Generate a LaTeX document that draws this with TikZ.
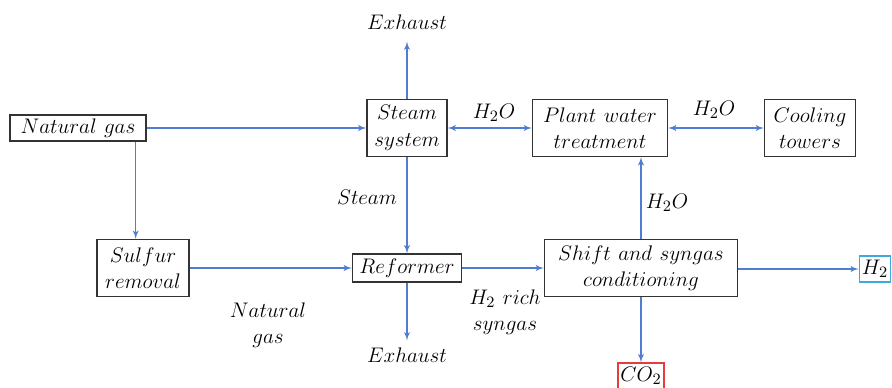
\documentclass[tikz,border=0pt]{standalone}
\usepackage{amsmath}
\usepackage{tikz}
\usetikzlibrary{calc}
\usetikzlibrary{positioning}
\usetikzlibrary{shapes,arrows}

\definecolor{flowBlue}{RGB}{80,125,210}
\definecolor{hydrogenCyan}{RGB}{60,170,220}
\definecolor{carbonRed}{RGB}{230,60,60}

\begin{document}
\begin{tikzpicture} [>=latex', x=0.02cm, y=-0.02cm, font=\fontsize{13}{15}\selectfont]
            % Set primary nodes
            \tikzset{
                unitBox/.style={
                        draw=black!80,
                        rectangle,
                        thick,
                        align=center,
                        inner sep=0.5pt
                    }
            }
            \tikzset{
                productBox/.style={
                        draw,
                        rectangle,
                        thick,
                        inner sep=1.5pt,
                        minimum height=0.52cm
                    }
            }
            \tikzset{
                streamLabel/.style={
                        align=center,
                        inner sep=0pt
                    }
            }
            % Configure arrows
            \tikzstyle{flow} = [flowBlue, semithick, ->]
            \tikzstyle{twoWay} = [flowBlue, semithick, <->]
            \useasboundingbox (0,0) rectangle (892,388);
            % Placing nodes
            \node[unitBox, minimum width=2.72cm, minimum height=0.52cm](natGas) at (78,128){$Natural\ gas$};
            \node[unitBox, minimum width=1.6cm, minimum height=1.14cm](steamSys) at (407,128){$Steam$\\$system$};
            \node[unitBox, minimum width=2.7cm, minimum height=1.14cm](waterTreat) at (600,128){$Plant\ water$\\$treatment$};
            \node[unitBox, minimum width=1.82cm, minimum height=1.14cm](cooling) at (810,128){$Cooling$\\$towers$};
            \node[unitBox, minimum width=1.84cm, minimum height=1.14cm](sulfur) at (143,268){$Sulfur$\\$removal$};
            \node[unitBox, minimum width=2.18cm, minimum height=0.56cm](reformer) at (407,268){$Reformer$};
            \node[unitBox, minimum width=3.86cm, minimum height=1.14cm](shift) at (641,268){$Shift\ and\ syngas$\\$conditioning$};
            \node[productBox, draw=hydrogenCyan, minimum width=0.62cm](hydrogen) at (875,269){$H_2$};
            \node[productBox, draw=carbonRed, minimum width=0.88cm](carbon) at (641,376){$CO_2$};
            \node[streamLabel](exhaustTop) at (407,22){$Exhaust$};
            \node[streamLabel](exhaustBottom) at (407,355){$Exhaust$};
            % Stream labels
            \node[streamLabel](steamLbl) at (367,197){$Steam$};
            \node[streamLabel](waterLblA) at (494,113){$H_2O$};
            \node[streamLabel](waterLblB) at (714,110){$H_2O$};
            \node[streamLabel](waterLblC) at (667,203){$H_2O$};
            \node[streamLabel](gasLbl) at (268,325){$Natural$\\$gas$};
            \node[streamLabel](syngasLbl) at (505,312){$H_2\ rich$\\$syngas$};
            % Draw arrows
            \draw[flow](natGas.east) -- (steamSys.west);
            \draw[flow]([xshift=-0.22cm]natGas.south east) -- ([xshift=-0.22cm]natGas.south east |- sulfur.north);
            \draw[flow](sulfur.east |- reformer.west) -- (reformer.west);
            \draw[flow](steamSys.south) -- (reformer.north);
            \draw[flow](steamSys.north) -- ([yshift=-0.24cm]exhaustTop.south);
            \draw[flow](reformer.south) -- ([yshift=0.14cm]exhaustBottom.north);
            \draw[flow](reformer.east) -- (reformer.east -| shift.west);
            \draw[flow](shift.east |- hydrogen.west) -- (hydrogen.west);
            \draw[flow](shift.south) -- (carbon.north);
            \draw[flow](shift.north) -- (waterTreat.south -| shift.north);
            \draw[twoWay](steamSys.east) -- (waterTreat.west);
            \draw[twoWay](waterTreat.east) -- (cooling.west);

        \end{tikzpicture}
\end{document}
